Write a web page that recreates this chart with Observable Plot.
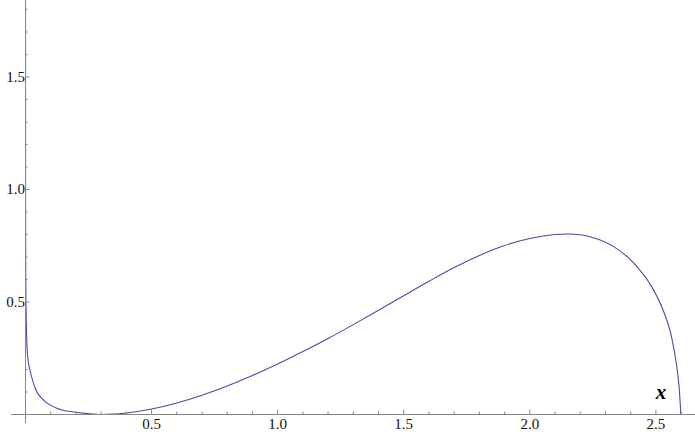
<!DOCTYPE html>
<html>
<head>
<meta charset="utf-8">
<script src="https://cdn.jsdelivr.net/npm/d3@7"></script>
<script src="https://cdn.jsdelivr.net/npm/@observablehq/plot@0.6"></script>
<style>
  html, body { margin: 0; padding: 0; background: #fff; }
  #chart { width: 695px; height: 439px; }
  #chart svg text { font-family: "Liberation Serif", serif !important; }
</style>
</head>
<body>
<div id="chart"></div>
<script>
// Curve samples
const xs = [0, 0.0002, 0.001, 0.004, 0.0083, 0.0214, 0.041, 0.074, 0.127, 0.193, 0.246, 0.3, 0.35, 0.4, 0.5, 0.6, 0.7, 0.8, 0.9, 1.0, 1.1, 1.2, 1.3, 1.4, 1.5, 1.6, 1.7, 1.8, 1.9, 2.0, 2.1, 2.15, 2.2, 2.242, 2.334, 2.414, 2.48, 2.526, 2.559, 2.579, 2.592, 2.599];
const ys = [1.9, 1.0, 0.6, 0.37, 0.26, 0.18, 0.11, 0.062, 0.027, 0.011, 0.004, 0.0, 0.0016, 0.0065, 0.0245, 0.0515, 0.086, 0.127, 0.1735, 0.2245, 0.2795, 0.338, 0.3995, 0.463, 0.528, 0.592, 0.653, 0.707, 0.751, 0.7825, 0.800, 0.8025, 0.799, 0.789, 0.745, 0.671, 0.574, 0.471, 0.359, 0.240, 0.122, 0.0];

const xMajor = [0.5, 1.0, 1.5, 2.0, 2.5];
const xMajorLabels = ["0.5", "1.0", "1.5", "2.0", "2.5"];
const xMinor = [0.1, 0.2, 0.3, 0.4, 0.6, 0.7, 0.8, 0.9, 1.1, 1.2, 1.3, 1.4, 1.6, 1.7, 1.8, 1.9, 2.1, 2.2, 2.3, 2.4, 2.6];
const yMajor = [0.5, 1.0, 1.5];
const yMajorLabels = ["0.5", "1.0", "1.5"];
const yMinor = [0.1, 0.2, 0.3, 0.4, 0.6, 0.7, 0.8, 0.9, 1.1, 1.2, 1.3, 1.4, 1.6, 1.7, 1.8];
const axisLabel = "x";

const data = xs.map((x, i) => ({x, y: ys[i]}));
const axisColor = "#858585";
const font = "Liberation Serif";

const chart = Plot.plot({
  width: 695,
  height: 439,
  marginLeft: 25,
  marginRight: 0,
  marginTop: 0,
  marginBottom: 25,
  style: {fontFamily: font, fontSize: "15px", background: "white", overflow: "visible"},
  x: {domain: [0, 2.657]},
  y: {domain: [0, 1.84]},
  marks: [
    Plot.line(data, {x: "x", y: "y", stroke: "#4a4aa8", strokeWidth: 1.1, curve: "monotone-x", clip: true}),
    Plot.ruleY([0], {x1: -0.055, x2: 2.657, stroke: axisColor, strokeWidth: 1}),
    Plot.ruleX([0], {y1: -0.04, y2: 1.84, stroke: axisColor, strokeWidth: 1}),
    Plot.axisX({ticks: xMinor, tickSize: -2.5, tickFormat: () => "", stroke: axisColor, label: null}),
    Plot.axisX({ticks: xMajor, tickSize: -4.5, tickPadding: 8, tickFormat: (d) => xMajorLabels[xMajor.indexOf(d)], stroke: axisColor, fill: "#111", fontSize: 15, fontFamily: font, label: null}),
    Plot.axisY({ticks: yMinor, tickSize: -2.5, tickFormat: () => "", stroke: axisColor, label: null}),
    Plot.axisY({ticks: yMajor, tickSize: -4.5, tickPadding: 5, tickFormat: (d) => yMajorLabels[yMajor.indexOf(d)], stroke: axisColor, fill: "#111", fontSize: 15, fontFamily: font, label: null}),
    Plot.text([axisLabel], {x: 2.52, y: 0.1, text: (d) => d, fontFamily: font, fontSize: 21, fontWeight: "bold", fontStyle: "italic", fill: "#000"})
  ]
});
document.getElementById("chart").appendChild(chart);
</script>
</body>
</html>
